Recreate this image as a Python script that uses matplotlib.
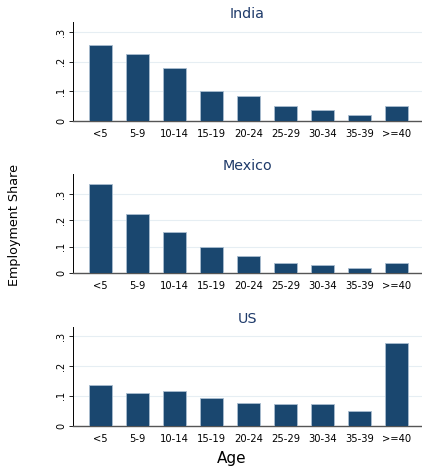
import matplotlib
matplotlib.use("Agg")
import matplotlib.pyplot as plt
import numpy as np

plt.rcParams['font.family'] = ['DejaVu Sans']

age_groups = ['<5', '5-9', '10-14', '15-19', '20-24', '25-29', '30-34', '35-39', '>=40']
india = [0.257, 0.227, 0.178, 0.102, 0.083, 0.050, 0.035, 0.018, 0.048]
mexico = [0.338, 0.223, 0.156, 0.099, 0.066, 0.038, 0.030, 0.020, 0.038]
us = [0.137, 0.110, 0.116, 0.093, 0.075, 0.072, 0.072, 0.050, 0.279]
countries = ['India', 'Mexico', 'US']
ytops = [0.335, 0.376, 0.332]

bar_color = '#1a476f'
title_color = '#1e3a6a'

fig = plt.figure(figsize=(4.22, 4.68), dpi=100)
W, H = 422, 468
# axes boxes in pixels: (top, bottom)
boxes = [(22, 120.5), (174, 273), (327, 425.5)]
x_left, x_right = 73, 422

x = np.arange(len(age_groups))
for name, vals, (top, bot), ytop in zip(countries, [india, mexico, us], boxes, ytops):
    ax = fig.add_axes([x_left / W, 1 - bot / H, (x_right - x_left) / W, (bot - top) / H])
    ax.bar(x, vals, width=0.62, color=bar_color, edgecolor='#a9bdd0', linewidth=0.6, zorder=3)
    ax.set_xlim(-0.75, 8.7)
    ax.set_ylim(0, ytop)
    ax.set_yticks([0, 0.1, 0.2, 0.3])
    ax.set_yticklabels(['0', '.1', '.2', '.3'], rotation=90, va='center', fontsize=7)
    ax.set_xticks(x)
    ax.set_xticklabels(age_groups, fontsize=7.2)
    ax.tick_params(axis='x', length=0, pad=6)
    ax.tick_params(axis='y', length=3, width=0.6, pad=2)
    ax.grid(axis='y', color='#e6eef3', linewidth=0.8, zorder=0)
    for s in ['top', 'right']:
        ax.spines[s].set_visible(False)
    ax.spines['left'].set_linewidth(0.7)
    ax.spines['bottom'].set_linewidth(1.0)
    ax.spines['bottom'].set_color('#555555')
    ax.set_title(name, fontsize=10.3, color=title_color, pad=3)

fig.text(15 / W, 1 - 225 / H, 'Employment Share', rotation=90, ha='center', va='center', fontsize=9.2)
fig.text(232 / W, 1 - 459 / H, 'Age', ha='center', va='center', fontsize=11)

fig.savefig('out.png', dpi=100, facecolor='white')
